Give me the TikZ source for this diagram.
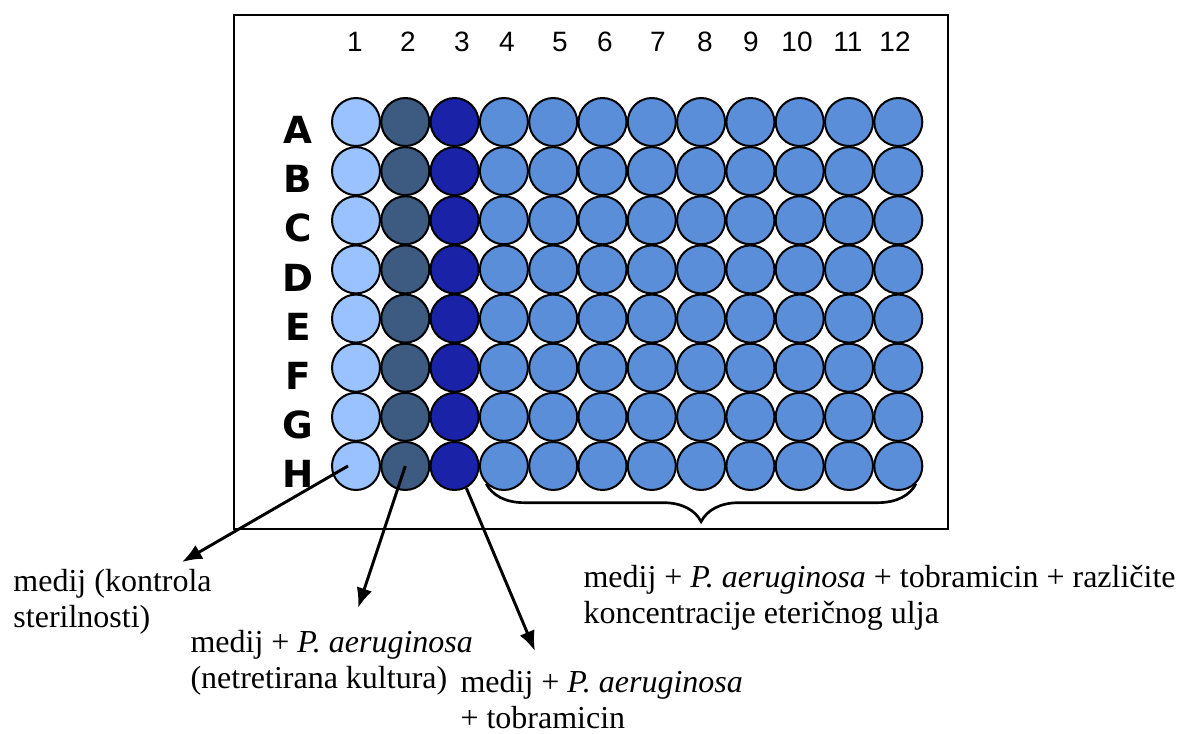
\documentclass[tikz,border=0pt]{standalone}
\usepackage{fontspec}
\setmainfont{Liberation Serif}
\setsansfont{Liberation Sans}
\newfontfamily\rowfont{DejaVu Sans}
\usetikzlibrary{arrows.meta,decorations.pathreplacing}

\definecolor{sterile}{RGB}{153,194,255}
\definecolor{untreated}{RGB}{61,90,128}
\definecolor{tobra}{RGB}{26,34,168}
\definecolor{oil}{RGB}{91,142,216}

\tikzset{every picture/.style={line width=0.75pt}}
\tikzset{
  well/.style={circle, draw, line width=1.5pt, minimum size=36pt, inner sep=0pt},
  lbl/.style={anchor=base west, align=left, inner sep=0pt, font=\fontsize{24}{26.5}\selectfont},
  arr/.style={line width=2.2pt, -{Latex[length=15pt,width=12pt]}},
}

\begin{document}
\begin{tikzpicture}[x=0.75pt,y=0.75pt,yscale=-1,xscale=1]
\useasboundingbox (0,0) rectangle (1183,733);

%Shape: Rectangle [plate frame]
\draw [line width=1.2pt] (234,15) rectangle (948,529);

% Text Node: column numbers
\foreach \c/\lx in {1/355,2/408,3/462,4/507,5/560,6/605,7/658,8/705,9/751,10/797,11/848,12/895}
  \draw (\lx,42) node [font=\sffamily\fontsize{21}{24}\selectfont] (col\c) {\c};

% row letters + wells
\foreach \r [count=\i] in {A,B,C,D,E,F,G,H} {
  \pgfmathsetmacro{\wy}{122+(\i-1)*49.14}
  \draw (298,\wy+8) node [font=\rowfont\bfseries\fontsize{28}{32}\selectfont] (row\r) {\r};
  \foreach \c in {1,...,12} {
    \ifnum\c=1 \def\wc{sterile}\else\ifnum\c=2 \def\wc{untreated}\else\ifnum\c=3 \def\wc{tobra}\else\def\wc{oil}\fi\fi\fi
    \node [well, fill=\wc] (\r\c) at ({356+(\c-1)*49.3},\wy) {};
  }
}

%Shape: Brace under columns 4-12
\draw [line width=2pt, decorate, decoration={brace, mirror, amplitude=28.5pt}] (H4.-135) -- (H12.-45);

% arrow ends
\coordinate (tip1) at (182,562);
\coordinate (tip2) at (358,608);
\coordinate (tip3) at (535,651);

%Straight Lines
\draw [arr] ([xshift=-6pt]H1.center) -- (tip1); % kontrola
\draw [arr] (H2.center) -- (tip2); % netretirana
\draw [arr] (H3.-62) -- (tip3); % tobramicin

% Text Node
\draw (13,627) node [lbl] (txt-sterile) {medij (kontrola\\sterilnosti)};
% Text Node
\draw (190,688) node [lbl] (txt-untreated) {medij + \textit{P. aeruginosa}\\(netretirana kultura)};
% Text Node
\draw (460,728) node [lbl] (txt-tobra) {medij + \textit{P. aeruginosa}\\+ tobramicin};
% Text Node
\draw (583,623) node [lbl] (txt-oil) {medij + \textit{P. aeruginosa} + tobramicin + različite\\koncentracije eteričnog ulja};

\end{tikzpicture}
\end{document}
